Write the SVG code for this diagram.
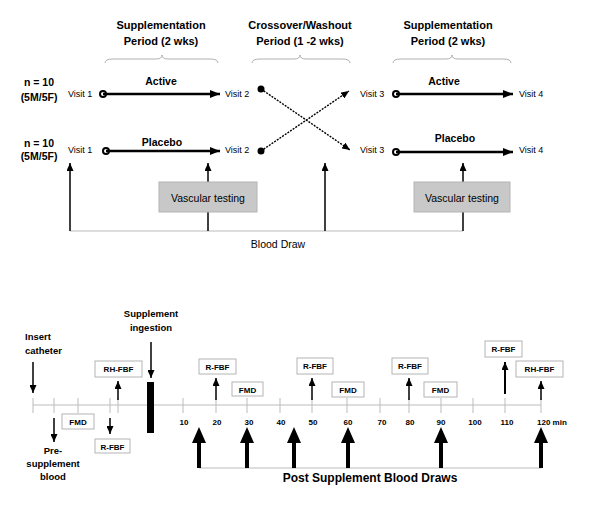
<svg xmlns="http://www.w3.org/2000/svg" width="600" height="515" viewBox="0 0 600 515">
<style>
text{font-family:"Liberation Sans",Arial,sans-serif;fill:#000}
.h{font-size:11px;font-weight:bold;text-anchor:middle}
.v{font-size:9px}
.lbl{font-size:10.5px;font-weight:bold;text-anchor:middle}
.brace{fill:none;stroke:#b0b0b0;stroke-width:1}
.gl{stroke:#bbb;stroke-width:1;fill:none}
.main{stroke:#000;stroke-width:2.5;fill:none}
.thin{stroke:#000;stroke-width:1.5;fill:none}
.dot{stroke:#000;stroke-width:1.4;stroke-dasharray:2,1.2;fill:none}
.vt{fill:#c8c8c8;stroke:#b4b4b4;stroke-width:1}
.vtt{font-size:10.5px;text-anchor:middle}
.box{fill:#fff;stroke:#b4b4b4;stroke-width:1}
.bt{font-size:8px;font-weight:bold;text-anchor:middle}
.tk{font-size:8px;font-weight:bold;text-anchor:middle}
.big{stroke:#000;stroke-width:4}
.ev{font-size:9.5px;font-weight:bold}
</style>
<defs>
<marker id="ah" markerUnits="userSpaceOnUse" markerWidth="10" markerHeight="8" refX="10" refY="4" orient="auto"><path d="M0,0 L10,4 L0,8 Z" fill="#000"/></marker>
<marker id="as" markerUnits="userSpaceOnUse" markerWidth="8" markerHeight="7" refX="8" refY="3.5" orient="auto"><path d="M0,0 L8,3.5 L0,7 Z" fill="#000"/></marker>
</defs>

<g id="headings">
<text class="h" x="161" y="29">Supplementation</text>
<text class="h" x="161" y="45">Period (2 wks)</text>
<text class="h" x="300" y="29">Crossover/Washout</text>
<text class="h" x="300" y="45">Period (1 -2 wks)</text>
<text class="h" x="448" y="29">Supplementation</text>
<text class="h" x="448" y="45">Period (2 wks)</text>
<path class="brace" d="M105,63 Q105,59 113,59 L156,59 Q162,59 162,55 Q162,59 168,59 L210,59 Q218,59 218,63"/>
<path class="brace" d="M252,63 Q252,59 260,59 L294,59 Q300,59 300,55 Q300,59 306,59 L342,59 Q350,59 350,63"/>
<path class="brace" d="M393,63 Q393,59 401,59 L446,59 Q452,59 452,55 Q452,59 458,59 L503,59 Q511,59 511,63"/>
</g>

<g id="groups">
<text class="lbl" x="39" y="86">n = 10</text>
<text class="lbl" x="39" y="101">(5M/5F)</text>
<text class="lbl" x="39" y="147">n = 10</text>
<text class="lbl" x="39" y="160">(5M/5F)</text>
</g>

<g id="visits">
<text class="v" x="68" y="97">Visit 1</text>
<text class="v" x="225" y="97">Visit 2</text>
<text class="v" x="68" y="153">Visit 1</text>
<text class="v" x="225" y="153">Visit 2</text>
<text class="v" x="360" y="97">Visit 3</text>
<text class="v" x="519" y="97">Visit 4</text>
<text class="v" x="360" y="153">Visit 3</text>
<text class="v" x="519" y="153">Visit 4</text>
</g>

<g id="connectors-top">
<circle cx="103" cy="94" r="3" fill="#fff" stroke="#000" stroke-width="2"/>
<line class="main" x1="103" y1="94" x2="220" y2="94" marker-end="url(#ah)"/>
<text class="lbl" x="161" y="85">Active</text>
<circle cx="106" cy="151" r="3" fill="#fff" stroke="#000" stroke-width="2"/>
<line class="main" x1="106" y1="151" x2="220" y2="151" marker-end="url(#ah)"/>
<text class="lbl" x="162" y="146">Placebo</text>
<circle cx="396" cy="94" r="3" fill="#fff" stroke="#000" stroke-width="2"/>
<line class="main" x1="396" y1="94" x2="513" y2="94" marker-end="url(#ah)"/>
<text class="lbl" x="444" y="85">Active</text>
<circle cx="396" cy="152" r="3" fill="#fff" stroke="#000" stroke-width="2"/>
<line class="main" x1="396" y1="152" x2="513" y2="152" marker-end="url(#ah)"/>
<text class="lbl" x="455" y="142">Placebo</text>
<circle cx="261" cy="89" r="3.5" fill="#000"/>
<line class="dot" x1="261" y1="89" x2="350" y2="150" marker-end="url(#as)"/>
<circle cx="261" cy="151" r="3.5" fill="#000"/>
<line class="dot" x1="261" y1="151" x2="349" y2="91" marker-end="url(#as)"/>
<line class="gl" x1="70" y1="231" x2="463" y2="231"/>
<line class="thin" x1="70" y1="231" x2="70" y2="163" marker-end="url(#as)"/>
<line class="thin" x1="208" y1="231" x2="208" y2="163" marker-end="url(#as)"/>
<line class="thin" x1="325" y1="231" x2="325" y2="163" marker-end="url(#as)"/>
<line class="thin" x1="463" y1="231" x2="463" y2="163" marker-end="url(#as)"/>
</g>
<g id="vascular-1"><rect class="vt" x="159" y="182" width="98" height="30"/><text class="vtt" x="208" y="202">Vascular testing</text></g>
<g id="vascular-2"><rect class="vt" x="414" y="182" width="96" height="30"/><text class="vtt" x="462" y="202">Vascular testing</text></g>
<g id="blood-draw"><text class="vtt" x="278" y="248">Blood Draw</text></g>

<g id="timeline">
<line class="gl" x1="33" y1="405" x2="541" y2="405"/>
<g class="gl">
<line x1="33" y1="398" x2="33" y2="413"/><line x1="54" y1="398" x2="54" y2="413"/><line x1="78" y1="398" x2="78" y2="413"/><line x1="110" y1="398" x2="110" y2="413"/><line x1="118" y1="398" x2="118" y2="413"/>
<line x1="183" y1="398" x2="183" y2="413"/><line x1="216" y1="398" x2="216" y2="413"/><line x1="247" y1="398" x2="247" y2="413"/><line x1="280" y1="398" x2="280" y2="413"/><line x1="312" y1="398" x2="312" y2="413"/><line x1="347" y1="398" x2="347" y2="413"/><line x1="380" y1="398" x2="380" y2="413"/><line x1="409" y1="398" x2="409" y2="413"/><line x1="441" y1="398" x2="441" y2="413"/><line x1="473" y1="398" x2="473" y2="413"/><line x1="505" y1="398" x2="505" y2="413"/><line x1="541" y1="398" x2="541" y2="413"/>
</g>
<text class="tk" x="184" y="425">10</text><text class="tk" x="217" y="425">20</text><text class="tk" x="249" y="425">30</text><text class="tk" x="281" y="425">40</text><text class="tk" x="313" y="425">50</text><text class="tk" x="348" y="425">60</text><text class="tk" x="382" y="425">70</text><text class="tk" x="410" y="425">80</text><text class="tk" x="441" y="425">90</text><text class="tk" x="475" y="425">100</text><text class="tk" x="507" y="425">110</text>
<text class="tk" x="537" y="425" style="text-anchor:start">120 min</text>
</g>

<g id="insert-catheter">
<text class="ev" x="25" y="340">Insert</text><text class="ev" x="25" y="354">catheter</text>
<line class="thin" x1="33" y1="362" x2="33" y2="393" marker-end="url(#as)"/>
</g>
<g id="pre-supplement">
<line class="thin" x1="54" y1="418" x2="54" y2="442" marker-end="url(#as)"/>
<text class="ev" x="53" y="454" text-anchor="middle">Pre-</text><text class="ev" x="53" y="467" text-anchor="middle">supplement</text><text class="ev" x="53" y="480" text-anchor="middle">blood</text>
</g>
<g id="supplement-ingestion">
<text class="ev" x="151" y="317" text-anchor="middle">Supplement</text><text class="ev" x="151" y="331" text-anchor="middle">ingestion</text>
<line class="thin" x1="151" y1="342" x2="151" y2="378" marker-end="url(#as)"/>
<rect x="147" y="382" width="7" height="51" fill="#000"/>
</g>

<g id="fmd-0"><rect class="box" x="62" y="414" width="32" height="15"/><text class="bt" x="78" y="425">FMD</text></g>
<g id="rfbf-0"><rect class="box" x="95" y="439" width="35" height="14"/><text class="bt" x="112.5" y="449.5">R-FBF</text><line class="thin" x1="110" y1="418" x2="110" y2="434" marker-end="url(#as)"/></g>
<g id="rhfbf-0"><rect class="box" x="95" y="361" width="47" height="16"/><text class="bt" x="118.5" y="372">RH-FBF</text><line class="thin" x1="118" y1="400" x2="118" y2="381" marker-end="url(#as)"/></g>
<g id="rfbf-20"><rect class="box" x="199" y="359" width="37" height="15"/><text class="bt" x="217.5" y="369.5">R-FBF</text><line class="thin" x1="216" y1="400" x2="216" y2="378" marker-end="url(#as)"/></g>
<g id="fmd-30"><rect class="box" x="232" y="382" width="31" height="14"/><text class="bt" x="247.5" y="392.5">FMD</text></g>
<g id="rfbf-50"><rect class="box" x="297" y="358" width="36" height="16"/><text class="bt" x="315" y="369">R-FBF</text><line class="thin" x1="312" y1="400" x2="312" y2="378" marker-end="url(#as)"/></g>
<g id="fmd-60"><rect class="box" x="332" y="382" width="32" height="15"/><text class="bt" x="348" y="393">FMD</text></g>
<g id="rfbf-80"><rect class="box" x="392" y="358" width="36" height="16"/><text class="bt" x="410" y="369">R-FBF</text><line class="thin" x1="409" y1="400" x2="409" y2="378" marker-end="url(#as)"/></g>
<g id="fmd-90"><rect class="box" x="424" y="382" width="33" height="15"/><text class="bt" x="440.5" y="393">FMD</text></g>
<g id="rfbf-110"><rect class="box" x="485" y="341" width="37" height="16"/><text class="bt" x="503.5" y="352">R-FBF</text><line x1="505" y1="394" x2="505" y2="362" stroke="#000" stroke-width="2" marker-end="url(#as)"/></g>
<g id="rhfbf-120"><rect class="box" x="516" y="361" width="47" height="16"/><text class="bt" x="539.5" y="372">RH-FBF</text><line class="thin" x1="541" y1="400" x2="541" y2="381" marker-end="url(#as)"/></g>

<g id="post-draws">
<line class="gl" x1="199" y1="468" x2="541" y2="468"/>
<g class="big"><line x1="199" y1="468" x2="199" y2="440"/><line x1="247" y1="468" x2="247" y2="440"/><line x1="294" y1="468" x2="294" y2="440"/><line x1="348" y1="468" x2="348" y2="440"/><line x1="441" y1="468" x2="441" y2="440"/><line x1="541" y1="468" x2="541" y2="440"/></g>
<g fill="#000"><path d="M199,427 L206,443 L192,443 Z"/><path d="M247,427 L254,443 L240,443 Z"/><path d="M294,427 L301,443 L287,443 Z"/><path d="M348,427 L355,443 L341,443 Z"/><path d="M441,427 L448,443 L434,443 Z"/><path d="M541,427 L548,443 L534,443 Z"/></g>
<text x="370" y="482" style="font-size:12px;font-weight:bold;text-anchor:middle">Post Supplement Blood Draws</text>
</g>
</svg>
